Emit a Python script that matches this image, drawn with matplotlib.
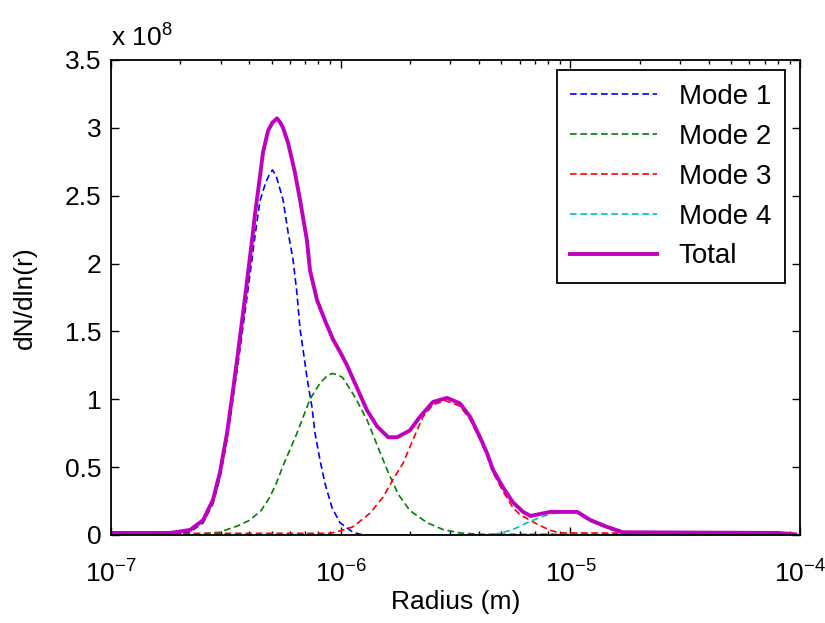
import matplotlib
matplotlib.use("Agg")
import matplotlib.pyplot as plt
from matplotlib.ticker import FuncFormatter, LogLocator, MultipleLocator

plt.rcParams["font.family"] = ["Liberation Sans", "DejaVu Sans"]
plt.rcParams["mathtext.fontset"] = "custom"
plt.rcParams["mathtext.rm"] = "Liberation Sans"

# radius (m) and dN/dln(r) in units of 1e8
r_mode1 = [1.0e-7, 1.8e-7, 2.2e-7, 2.52e-7, 2.78e-7, 2.98e-7, 3.2e-7, 3.4e-7, 3.57e-7,
           3.76e-7, 3.95e-7, 4.11e-7, 4.24e-7, 4.45e-7, 4.7e-7, 4.9e-7, 5.05e-7,
           5.25e-7, 5.61e-7, 5.9e-7, 6.2e-7, 6.45e-7, 6.65e-7, 6.85e-7, 7.13e-7,
           7.5e-7, 7.73e-7, 8.13e-7, 8.54e-7, 9.17e-7, 9.93e-7, 1.13e-6, 1.25e-6, 1.0e-4]
n_mode1 = [0.0, 0.0, 0.02, 0.09, 0.23, 0.42, 0.70, 1.01, 1.26,
           1.54, 1.81, 2.03, 2.21, 2.46, 2.59, 2.66, 2.69,
           2.64, 2.47, 2.23, 2.03, 1.78, 1.52, 1.37, 1.16,
           0.94, 0.75, 0.55, 0.38, 0.20, 0.09, 0.02, 0.0, 0.0]

r_mode2 = [1.0e-7, 2.2e-7, 2.52e-7, 2.98e-7, 3.2e-7, 3.6e-7, 4.03e-7, 4.5e-7, 4.92e-7,
           5.3e-7, 5.61e-7, 6.45e-7, 7.35e-7, 8.13e-7, 8.7e-7, 9.17e-7, 9.7e-7, 1.02e-6,
           1.15e-6, 1.3e-6, 1.45e-6, 1.61e-6, 1.78e-6, 2.0e-6, 2.38e-6, 2.79e-6,
           3.3e-6, 4.0e-6, 1.0e-4]
n_mode2 = [0.0, 0.0, 0.01, 0.02, 0.04, 0.07, 0.11, 0.18, 0.28,
           0.40, 0.51, 0.75, 1.0, 1.12, 1.17, 1.19, 1.18, 1.16,
           1.02, 0.85, 0.65, 0.46, 0.30, 0.18, 0.09, 0.04,
           0.015, 0.005, 0.005]

r_mode3 = [1.0e-7, 9.0e-7, 9.93e-7, 1.13e-6, 1.34e-6, 1.53e-6, 1.69e-6, 1.87e-6,
           2.06e-6, 2.28e-6, 2.52e-6, 2.85e-6, 3.3e-6, 3.66e-6, 4.04e-6, 4.34e-6,
           4.6e-6, 5.09e-6, 5.62e-6, 6.03e-6, 7.15e-6, 8.15e-6, 9.0e-6, 9.0e-5]
n_mode3 = [0.012, 0.012, 0.03, 0.06, 0.16, 0.28, 0.41, 0.53,
           0.70, 0.87, 0.96, 0.99, 0.95, 0.85, 0.70, 0.58,
           0.46, 0.32, 0.20, 0.15, 0.08, 0.035, 0.015, 0.012]

r_mode4 = [1.0e-7, 4.5e-6, 5.0e-6, 5.62e-6, 6.47e-6, 7.38e-6, 8.4e-6, 9.7e-6,
           1.07e-5, 1.22e-5, 1.44e-5, 1.69e-5, 2.0e-5, 1.0e-4]
n_mode4 = [0.0, 0.0, 0.015, 0.04, 0.09, 0.13, 0.16, 0.17,
           0.16, 0.10, 0.05, 0.01, 0.0, 0.0]

r_total = [1.0e-7, 1.81e-7, 2.21e-7, 2.52e-7, 2.78e-7, 2.98e-7, 3.2e-7, 3.4e-7,
           3.57e-7, 3.76e-7, 3.95e-7, 4.11e-7, 4.24e-7, 4.45e-7, 4.59e-7, 4.83e-7,
           5.05e-7, 5.28e-7, 5.45e-7, 5.61e-7, 5.9e-7, 6.32e-7, 6.65e-7, 7.13e-7,
           7.35e-7, 7.89e-7, 8.54e-7, 9.26e-7, 1.0e-6, 1.065e-6, 1.18e-6, 1.3e-6,
           1.44e-6, 1.61e-6, 1.76e-6, 2.0e-6, 2.21e-6, 2.52e-6, 2.9e-6, 3.3e-6,
           3.66e-6, 4.04e-6, 4.34e-6, 4.6e-6, 5.09e-6, 5.62e-6, 6.22e-6, 6.7e-6,
           7.15e-6, 8.15e-6, 1.07e-5, 1.22e-5, 1.44e-5, 1.69e-5, 8.0e-5, 9.5e-5]
n_total = [0.015, 0.015, 0.037, 0.11, 0.26, 0.46, 0.75, 1.07,
           1.34, 1.64, 1.93, 2.17, 2.37, 2.64, 2.82, 2.98,
           3.04, 3.07, 3.04, 3.0, 2.89, 2.67, 2.47, 2.17,
           1.95, 1.73, 1.58, 1.44, 1.34, 1.25, 1.08, 0.92,
           0.80, 0.72, 0.72, 0.77, 0.87, 0.98, 1.01, 0.97,
           0.87, 0.72, 0.60, 0.48, 0.35, 0.24, 0.17, 0.14,
           0.15, 0.17, 0.17, 0.11, 0.06, 0.02, 0.015, 0.005]

modes = [
    ("Mode 1", r_mode1, n_mode1, "#0000ff"),
    ("Mode 2", r_mode2, n_mode2, "#008000"),
    ("Mode 3", r_mode3, n_mode3, "#ff0000"),
    ("Mode 4", r_mode4, n_mode4, "#00bfbf"),
]

fig = plt.figure(figsize=(8.25, 6.23), dpi=100)
ax = fig.add_axes([0.1345, 0.1413, 0.8355, 0.7624])

for label, r, n, color in modes:
    ax.plot(r, n, color=color, lw=1.2, ls=(0, (4, 2.2)), label=label)
ax.plot(r_total, n_total, color="#bf00bf", lw=2.8, label="Total")

ax.set_xscale("log")
ax.set_xlim(1e-7, 1e-4)
ax.set_ylim(0, 3.5)
ax.yaxis.set_major_locator(MultipleLocator(0.5))
ax.yaxis.set_major_formatter(FuncFormatter(lambda v, p: f"{v:g}"))
ax.xaxis.set_major_locator(LogLocator(base=10, numticks=10))
ax.xaxis.set_minor_locator(LogLocator(base=10, subs=range(2, 10), numticks=20))

ax.tick_params(which="both", direction="in", top=True, right=True,
               labelsize=19, width=1.0)
ax.tick_params(which="major", length=6)
ax.tick_params(which="minor", length=3)
ax.tick_params(axis="x", which="major", pad=18)
ax.tick_params(axis="y", which="major", pad=7)
for sp in ax.spines.values():
    sp.set_linewidth(1.3)

ax.set_xlabel("Radius (m)", fontsize=19, labelpad=2)
ax.set_ylabel("dN/dln(r)", fontsize=19, labelpad=20)
ax.text(0.0, 1.02, r"x 10$^{8}$", transform=ax.transAxes, fontsize=19,
        ha="left", va="bottom")

leg = ax.legend(loc="upper right", bbox_to_anchor=(0.978, 0.979), borderaxespad=0,
                fontsize=20, fancybox=False, edgecolor="black", framealpha=1,
                handlelength=3.1, labelspacing=0.5, handletextpad=0.8,
                borderpad=0.5)
leg.get_frame().set_linewidth(1.3)

fig.savefig("out.png", dpi=100)
